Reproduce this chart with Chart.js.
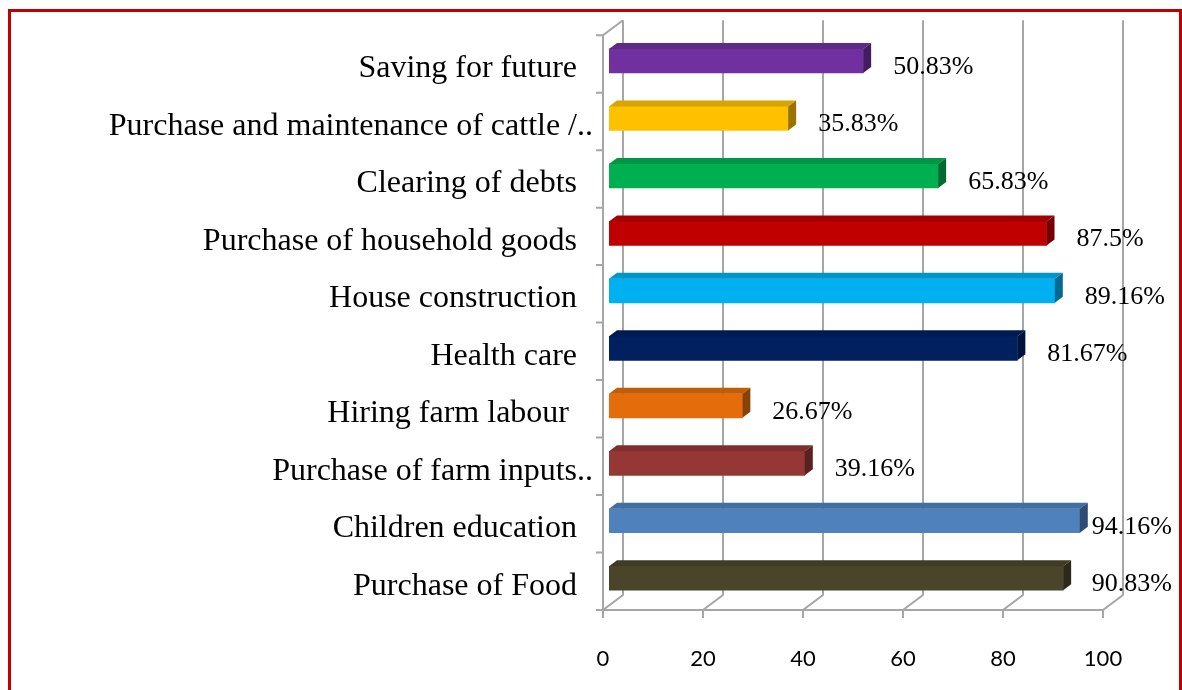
<!DOCTYPE html>
<html>
<head>
<meta charset="utf-8">
<script src="https://cdn.jsdelivr.net/npm/chart.js@4/dist/chart.umd.min.js"></script>
<style>
html, body { margin: 0; background: #fff; overflow: hidden; }
#frame { position: absolute; left: 8px; top: 9px; width: 1168px; height: 720px; border: 3px solid #c00000; }
#wrap { position: absolute; left: 0; top: 0; width: 1182px; height: 690px; }
</style>
</head>
<body>
<div id="frame"></div>
<div id="wrap"><canvas id="usesChart"></canvas></div>
<script>
// trailing spaces keep the right-aligned labels where Excel put them
const categories = [
  "Saving for future  ",
  "Purchase and maintenance of cattle /..",
  "Clearing of debts  ",
  "Purchase of household goods  ",
  "House construction  ",
  "Health care  ",
  "Hiring farm labour   ",
  "Purchase of farm inputs..",
  "Children education  ",
  "Purchase of Food  "
];
const percents = [50.83, 35.83, 65.83, 87.5, 89.16, 81.67, 26.67, 39.16, 94.16, 90.83];
const barColors = ["#7030a0", "#ffc000", "#00b050", "#c00000", "#00b0f0", "#002060", "#e46c0a", "#953735", "#4f81bd", "#4a452a"];
const xTicks = [0, 20, 40, 60, 80, 100];

const shade = (hex, f) => {
  const n = parseInt(hex.slice(1), 16);
  const r = Math.round(((n >> 16) & 255) * f);
  const g = Math.round(((n >> 8) & 255) * f);
  const b = Math.round((n & 255) * f);
  return `rgb(${r},${g},${b})`;
};

const depthX = 8, depthY = 6;
const wallColor = "#a6a6a6";

const threeD = {
  id: "threeD",
  beforeDatasetsDraw(chart) {
    const { ctx, chartArea, scales } = chart;
    const front = v => scales.x.getPixelForValue(v) - 6;
    const top = chartArea.top, bottom = chartArea.bottom;
    ctx.save();
    ctx.strokeStyle = wallColor;
    ctx.lineWidth = 2;
    ctx.beginPath();
    xTicks.forEach(v => {
      const px = front(v);
      ctx.moveTo(px + 20, top - 15);
      ctx.lineTo(px + 20, bottom - 15);
      ctx.lineTo(px, bottom);
      ctx.lineTo(px, bottom + 8);
    });
    ctx.moveTo(front(0) - 7, bottom);
    ctx.lineTo(front(100), bottom);
    ctx.moveTo(front(0), bottom);
    ctx.lineTo(front(0), top);
    ctx.lineTo(front(0) + 20, top - 15);
    const step = (bottom - top) / categories.length;
    for (let i = 0; i < categories.length; i++) {
      const y = top + i * step;
      ctx.moveTo(front(0) - 7, y);
      ctx.lineTo(front(0), y);
    }
    ctx.stroke();
    ctx.restore();
    ctx.save();
    ctx.translate(0, -3);
  },
  afterDatasetsDraw(chart) {
    const ctx = chart.ctx;
    const meta = chart.getDatasetMeta(0);
    meta.data.forEach((bar, i) => {
      const p = bar.getProps(["x", "y", "base", "height"], true);
      const x0 = p.base, x1 = p.x;
      const yT = p.y - p.height / 2, yB = p.y + p.height / 2;
      ctx.fillStyle = shade(barColors[i], 0.85);
      ctx.beginPath();
      ctx.moveTo(x0, yT);
      ctx.lineTo(x0 + depthX, yT - depthY);
      ctx.lineTo(x1 + depthX, yT - depthY);
      ctx.lineTo(x1, yT);
      ctx.closePath();
      ctx.fill();
      ctx.fillStyle = shade(barColors[i], 0.6);
      ctx.beginPath();
      ctx.moveTo(x1, yT);
      ctx.lineTo(x1 + depthX, yT - depthY);
      ctx.lineTo(x1 + depthX, yB - depthY);
      ctx.lineTo(x1, yB);
      ctx.closePath();
      ctx.fill();
    });
    ctx.restore();

    // value labels
    ctx.save();
    ctx.font = "26px 'Liberation Serif'";
    ctx.fillStyle = "#000";
    ctx.textBaseline = "middle";
    ctx.textAlign = "left";
    meta.data.forEach((bar, i) => {
      const txt = percents[i] + "%";
      const w = ctx.measureText(txt).width;
      let x = bar.x + depthX + 22;
      if (x + w > 1172) x = 1172 - w;
      ctx.fillText(txt, x, bar.y + 3);
    });
    ctx.restore();
  }
};

new Chart(document.getElementById("usesChart"), {
  type: "bar",
  data: {
    labels: categories,
    datasets: [{
      data: percents,
      backgroundColor: barColors,
      barThickness: 24,
      borderWidth: 0
    }]
  },
  options: {
    indexAxis: "y",
    responsive: true,
    maintainAspectRatio: false,
    animation: false,
    layout: { padding: { top: 20, right: 73, bottom: 0, left: 0 } },
    plugins: { legend: { display: false }, tooltip: { enabled: false } },
    scales: {
      x: {
        min: 0,
        max: 100,
        afterFit: s => { s.height = 80; },
        grid: { display: false, drawTicks: false },
        border: { display: false },
        ticks: {
          stepSize: 20,
          padding: 36,
          labelOffset: -6,
          color: "#000",
          font: { family: "Lato", size: 22 }
        }
      },
      y: {
        afterFit: s => { s.width = 609; },
        grid: { display: false, drawTicks: false },
        border: { display: false },
        ticks: {
          autoSkip: false,
          padding: 16,
          labelOffset: 5,
          color: "#000",
          font: { family: "'Liberation Serif'", size: 32 }
        }
      }
    }
  },
  plugins: [threeD]
});
</script>
</body>
</html>
